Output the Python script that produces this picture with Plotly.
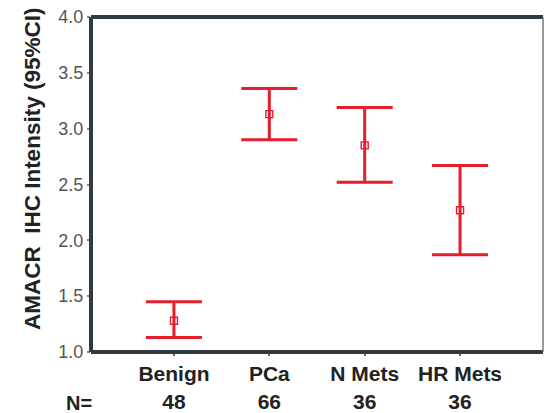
import plotly.graph_objects as go

categories = ["Benign", "PCa", "N Mets", "HR Mets"]
counts = [48, 66, 36, 36]
means = [1.28, 3.13, 2.85, 2.27]
upper = [1.45, 3.36, 3.19, 2.67]
lower = [1.13, 2.90, 2.52, 1.87]
y_ticks = [1.0, 1.5, 2.0, 2.5, 3.0, 3.5, 4.0]

RED = "#e41e2b"
positions = list(range(1, len(categories) + 1))

fig = go.Figure()
fig.add_trace(go.Scatter(
    x=positions,
    y=means,
    mode="markers",
    marker=dict(symbol="square-open", size=7, color=RED, line=dict(width=1.4, color=RED)),
    error_y=dict(
        type="data",
        symmetric=False,
        array=[u - m for u, m in zip(upper, means)],
        arrayminus=[m - l for m, l in zip(means, lower)],
        color=RED,
        thickness=3,
        width=28,
    ),
    showlegend=False,
    hoverinfo="skip",
))

ticktext = [f"{c}<br>{n}" for c, n in zip(categories, counts)]

fig.update_layout(
    width=544,
    height=413,
    margin=dict(l=91, r=1, t=17, b=61),
    paper_bgcolor="white",
    plot_bgcolor="white",
    font=dict(family="Liberation Sans, Arial, sans-serif"),
    xaxis=dict(
        range=[0.13, 4.87],
        tickvals=positions,
        ticktext=ticktext,
        showgrid=False,
        zeroline=False,
        showline=False,
        ticks="outside",
        ticklen=3,
        tickwidth=1.5,
        tickcolor="#666",
        tickfont=dict(size=21, color="#222", weight="bold"),
    ),
    yaxis=dict(
        range=[1.0, 4.0],
        tickvals=y_ticks,
        tickformat=".1f",
        showgrid=False,
        zeroline=False,
        showline=False,
        ticks="outside",
        ticklen=3,
        tickwidth=1.5,
        tickcolor="#888",
        tickfont=dict(size=18, color="#555"),
    ),
    shapes=[
        dict(type="line", xref="paper", yref="paper", x0=0, x1=1, y0=1, y1=1,
             line=dict(color="#2e3b42", width=4)),
        dict(type="line", xref="paper", yref="paper", x0=0, x1=1, y0=0, y1=0,
             line=dict(color="#2e3b42", width=4)),
        dict(type="line", xref="paper", yref="paper", x0=0, x1=0, y0=0, y1=1,
             line=dict(color="#2e3b42", width=4)),
        dict(type="line", xref="paper", yref="paper", x0=1, x1=1, y0=0, y1=1,
             line=dict(color="#777", width=1.5)),
    ],
    annotations=[
        dict(text="AMACR  IHC Intensity (95%CI)", xref="paper", yref="paper",
             x=-0.1305, y=0.546, xanchor="center", yanchor="middle",
             textangle=-90, showarrow=False,
             font=dict(size=22.5, color="#222", weight="bold")),
        dict(text="N=", xref="paper", yref="paper", x=-0.06, y=-0.152,
             xanchor="left", yanchor="middle", showarrow=False,
             font=dict(size=20, color="#222", weight="bold")),
    ],
)

fig.write_html("out.html")
